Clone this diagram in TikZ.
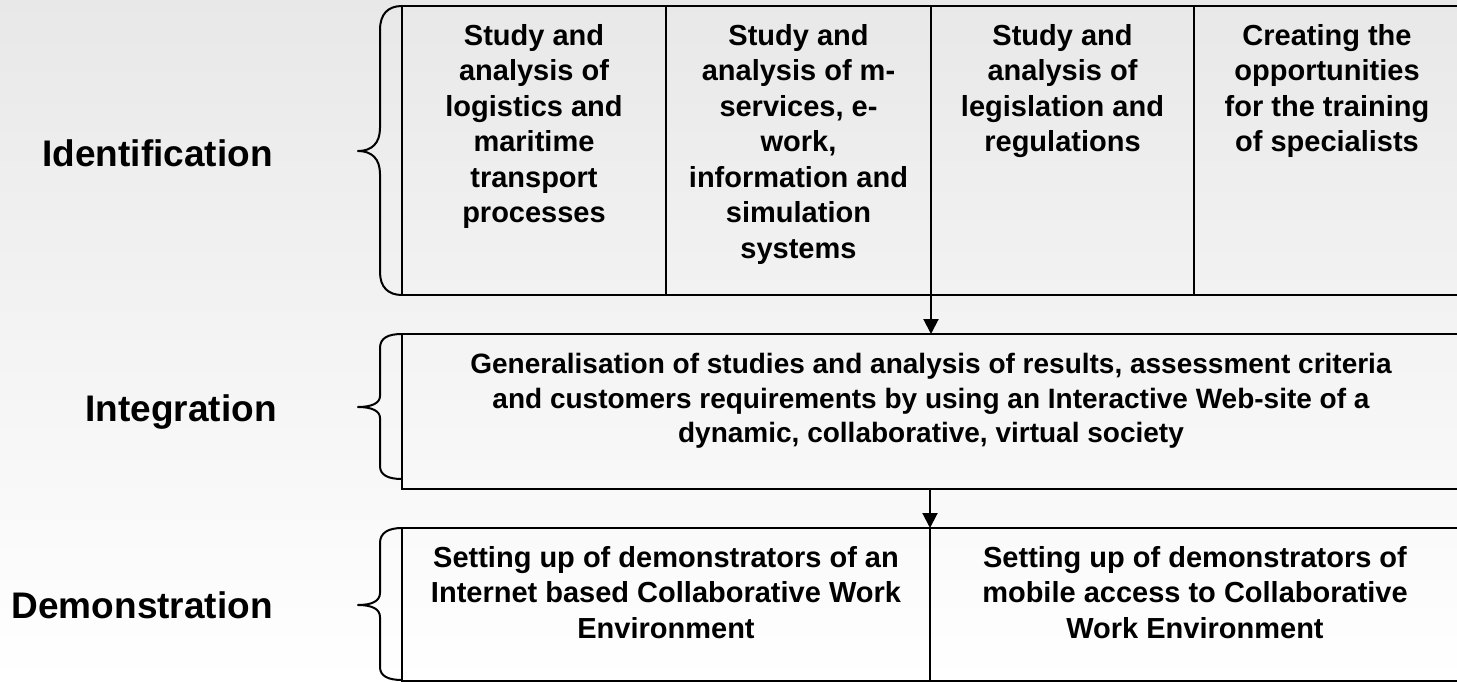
\documentclass[tikz,border=0pt]{standalone}
\usepackage{fontspec}
\setmainfont{Liberation Sans}
\usetikzlibrary{arrows.meta,calc}
\begin{document}
\begin{tikzpicture}[x=0.75pt,y=-0.75pt,
  cell/.style={draw, line width=1.5pt, rectangle, inner sep=0pt, outer sep=0pt, anchor=north west},
  celltext/.style={font=\bfseries\fontsize{21.75}{26.6}\selectfont, align=center, anchor=north, inner sep=0pt},
  midtext/.style={celltext, font=\bfseries\fontsize{21}{26}\selectfont},
  phase/.style={font=\bfseries\fontsize{27.75}{33}\selectfont, anchor=base east, inner sep=0pt},
  bracepath/.style={line width=1.5pt, line join=round, line cap=round},
  arr/.style={line width=1.5pt, -{Triangle[width=11.25pt,length=11.25pt]}}]
\shade[top color=gray!18, bottom color=white] (0,0) rectangle (1457,682);
\useasboundingbox (0,0) rectangle (1457,682);

% top row cells
\node[cell, minimum width=198pt, minimum height=216.75pt] (c1) at (402,6) {};
\node[cell, minimum width=198.75pt, minimum height=216.75pt] (c2) at (666,6) {};
\node[cell, minimum width=197.25pt, minimum height=216.75pt] (c3) at (931,6) {};
\node[cell, minimum width=199.5pt, minimum height=216.75pt] (c4) at (1194,6) {};
% middle
\node[cell, minimum width=793.5pt, minimum height=116.25pt] (mid) at (402,334) {};
% bottom
\node[cell, minimum width=396pt, minimum height=114.75pt] (d1) at (402,528) {};
\node[cell, minimum width=397.5pt, minimum height=114.75pt] (d2) at (930,528) {};

% texts
\node[celltext] (t1) at ($(c1.north)+(0,18)$) {Study and\\analysis of\\logistics and\\maritime\\transport\\processes};
\node[celltext] (t2) at ($(c2.north)+(0,18)$) {Study and\\analysis of m-\\services, e-\\work,\\information and\\simulation\\systems};
\node[celltext] (t3) at ($(c3.north)+(0,18)$) {Study and\\analysis of\\legislation and\\regulations};
\node[celltext] (t4) at ($(c4.north)+(0,18)$) {Creating the\\opportunities\\for the training\\of specialists};
\node[midtext] (tm) at ($(mid.north)+(0,19)$) {Generalisation of studies and analysis of results, assessment criteria\\and customers requirements by using an Interactive Web-site of a\\dynamic, collaborative, virtual society};
\node[celltext] (td1) at ($(d1.north)+(0,18)$) {Setting up of demonstrators of an\\Internet based Collaborative Work\\Environment};
\node[celltext] (td2) at ($(d2.north)+(0,18)$) {Setting up of demonstrators of\\mobile access to Collaborative\\Work Environment};

% arrows
\draw[arr] (c3.south west) -- (c3.south west |- mid.north);
\draw[arr] (d1.north east |- mid.south) -- (d1.north east);

% braces
\draw[bracepath] (402,6) .. controls (388,6) and (380,14) .. (380,30) -- (380,128)
  .. controls (380,143) and (372,151) .. (358,151)
  .. controls (372,151) and (380,159) .. (380,174) -- (380,272)
  .. controls (380,287) and (388,295) .. (402,295);
\draw[bracepath] (402,334) .. controls (388,334) and (380,338) .. (380,348) -- (380,396)
  .. controls (380,403) and (372,407) .. (358,407)
  .. controls (372,407) and (380,411) .. (380,418) -- (380,466)
  .. controls (380,475) and (388,479) .. (402,479);
\draw[bracepath] (402,528) .. controls (388,528) and (380,533) .. (380,543) -- (380,593)
  .. controls (380,601) and (372,605) .. (358,605)
  .. controls (372,605) and (380,609) .. (380,617) -- (380,667)
  .. controls (380,676) and (388,680) .. (402,680);

% phase labels
\node[phase] (l1) at (273,166) {Identification};
\node[phase] (l2) at (277,421) {Integration};
\node[phase] (l3) at (273,618) {Demonstration};
\end{tikzpicture}
\end{document}
